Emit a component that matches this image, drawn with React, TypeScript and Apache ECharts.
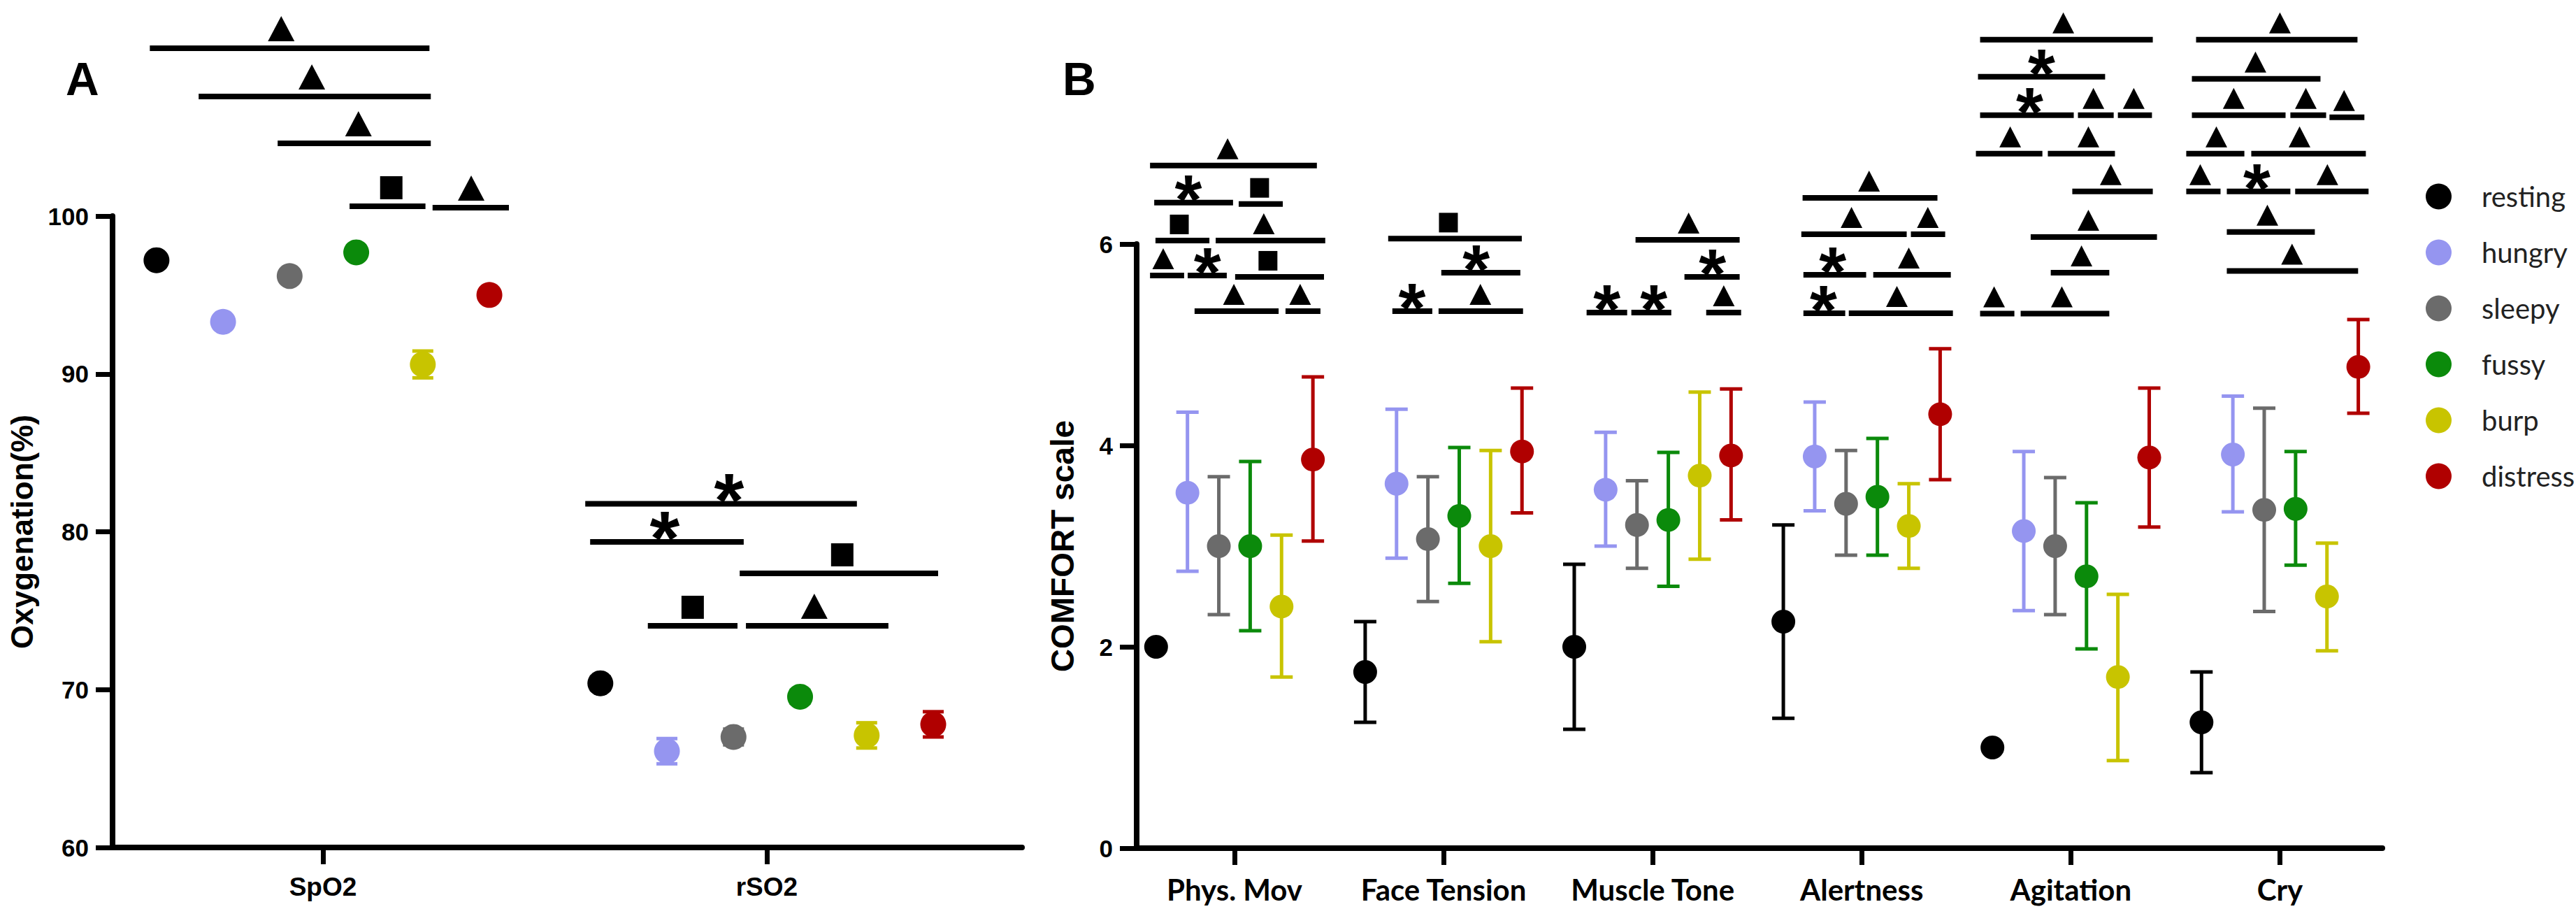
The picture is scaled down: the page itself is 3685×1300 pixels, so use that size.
import React, { useEffect, useRef } from 'react';
import * as echarts from 'echarts';

const states = ['resting', 'hungry', 'sleepy', 'fussy', 'burp', 'distress'];
const stateColors = ['#000000', '#9595f0', '#6b6b6b', '#0b8a0b', '#c8c400', '#b00000'];

const oxyCategories = ['SpO2', 'rSO2'];
const spo2Mean = [97.2, 93.3, 96.2, 97.7, 90.6, 95.0];
const spo2Err = [0.3, 0.3, 0.3, 0.3, 0.85, 0.3];
const rso2Mean = [70.4, 66.1, 67.0, 69.55, 67.1, 67.8];
const rso2Err = [0.4, 0.8, 0.5, 0.4, 0.8, 0.8];

const comfortCategories = ['Phys. Mov', 'Face Tension', 'Muscle Tone', 'Alertness', 'Agitation', 'Cry'];
// [state][category]
const comfortMean = [
  [2.0, 1.75, 2.0, 2.25, 1.0, 1.25],
  [3.53, 3.62, 3.56, 3.89, 3.15, 3.91],
  [3.0, 3.07, 3.21, 3.42, 3.0, 3.36],
  [3.0, 3.3, 3.26, 3.49, 2.7, 3.37],
  [2.4, 3.0, 3.7, 3.2, 1.7, 2.5],
  [3.86, 3.94, 3.9, 4.31, 3.88, 4.78],
];
const comfortLower = [
  [2.0, 1.25, 1.18, 1.29, 1.0, 0.75],
  [2.75, 2.88, 3.0, 3.35, 2.36, 3.34],
  [2.32, 2.45, 2.78, 2.91, 2.32, 2.35],
  [2.16, 2.63, 2.6, 2.91, 1.98, 2.81],
  [1.7, 2.05, 2.87, 2.78, 0.87, 1.96],
  [3.05, 3.33, 3.26, 3.66, 3.19, 4.32],
];
const comfortUpper = [
  [2.0, 2.25, 2.82, 3.21, 1.0, 1.75],
  [4.33, 4.36, 4.13, 4.43, 3.94, 4.49],
  [3.69, 3.69, 3.65, 3.95, 3.68, 4.37],
  [3.84, 3.98, 3.93, 4.07, 3.43, 3.94],
  [3.11, 3.95, 4.53, 3.62, 2.52, 3.03],
  [4.68, 4.57, 4.56, 4.96, 4.57, 5.25],
];

// significance marks: [xFrom, xTo, level, markX, kind]  kind: 0 = triangle, 1 = square, 2 = asterisk
const oxySig = [
  [0.61, 1.24, 110.63, 0.906, 0],
  [0.72, 1.243, 107.57, 0.975, 0],
  [0.898, 1.243, 104.61, 1.08, 0],
  [1.06, 1.231, 100.62, 1.154, 1],
  [1.247, 1.419, 100.53, 1.334, 0],
  [1.591, 2.203, 81.77, 1.915, 2],
  [1.602, 1.948, 79.36, 1.77, 2],
  [1.939, 2.386, 77.36, 2.17, 1],
  [1.732, 1.934, 74.04, 1.833, 1],
  [1.953, 2.274, 74.04, 2.107, 0],
];
const comfortSig = [
  [0.596, 1.394, 6.779, 0.967, 0],
  [0.616, 0.993, 6.411, 0.779, 2],
  [1.02, 1.231, 6.398, 1.12, 1],
  [0.622, 0.88, 6.035, 0.736, 1],
  [0.91, 1.434, 6.035, 1.14, 0],
  [0.596, 0.759, 5.688, 0.659, 0],
  [0.776, 0.963, 5.688, 0.87, 2],
  [1.003, 1.428, 5.674, 1.16, 1],
  [0.809, 1.211, 5.334, 0.997, 0],
  [1.244, 1.411, 5.334, 1.314, 0],
  [1.735, 2.374, 6.053, 2.023, 1],
  [1.989, 2.367, 5.716, 2.156, 2],
  [1.755, 1.946, 5.334, 1.849, 2],
  [1.976, 2.38, 5.334, 2.176, 0],
  [2.918, 3.416, 6.042, 3.172, 0],
  [3.152, 3.416, 5.674, 3.286, 2],
  [2.684, 2.878, 5.32, 2.781, 2],
  [2.898, 3.089, 5.32, 3.005, 2],
  [3.256, 3.423, 5.32, 3.34, 0],
  [3.717, 4.362, 6.459, 4.035, 0],
  [3.711, 4.215, 6.098, 3.951, 0],
  [4.235, 4.399, 6.098, 4.316, 0],
  [3.721, 4.021, 5.695, 3.861, 2],
  [4.055, 4.426, 5.695, 4.225, 0],
  [3.721, 3.921, 5.313, 3.817, 2],
  [3.938, 4.436, 5.313, 4.168, 0],
  [4.566, 5.392, 8.03, 4.964, 0],
  [4.556, 5.164, 7.661, 4.86, 2],
  [4.566, 5.014, 7.279, 4.803, 2],
  [5.034, 5.205, 7.279, 5.108, 0],
  [5.225, 5.388, 7.279, 5.301, 0],
  [4.546, 4.864, 6.897, 4.71, 0],
  [4.89, 5.211, 6.897, 5.084, 0],
  [5.007, 5.392, 6.522, 5.191, 0],
  [4.808, 5.412, 6.07, 5.084, 0],
  [4.904, 5.184, 5.716, 5.051, 0],
  [4.566, 4.73, 5.309, 4.633, 0],
  [4.76, 5.184, 5.309, 4.957, 0],
  [5.599, 6.371, 8.03, 6.0, 0],
  [5.579, 6.194, 7.641, 5.883, 0],
  [5.579, 6.027, 7.279, 5.779, 0],
  [6.05, 6.221, 7.279, 6.124, 0],
  [6.237, 6.404, 7.258, 6.307, 0],
  [5.552, 5.83, 6.897, 5.696, 0],
  [5.863, 6.411, 6.897, 6.094, 0],
  [5.552, 5.716, 6.522, 5.619, 0],
  [5.746, 6.05, 6.522, 5.89, 2],
  [6.073, 6.424, 6.522, 6.227, 0],
  [5.746, 6.167, 6.119, 5.94, 0],
  [5.746, 6.374, 5.733, 6.058, 0],
];

const STEP = 0.15;
const ARIAL = "'Liberation Sans', Arial, sans-serif";

function errRender(capW: number, lw: number) {
  return (params: any, api: any) => {
    const x = api.value(0);
    const lo = api.value(1);
    const hi = api.value(2);
    const si = api.value(3);
    if (hi - lo < 1e-9) return { type: 'group', children: [] };
    const p1 = api.coord([x, lo]);
    const p2 = api.coord([x, hi]);
    const style = { stroke: stateColors[si], lineWidth: lw, fill: 'none' };
    return {
      type: 'group',
      children: [
        { type: 'line', shape: { x1: p1[0], y1: p1[1], x2: p2[0], y2: p2[1] }, style },
        { type: 'line', shape: { x1: p1[0] - capW / 2, y1: p1[1], x2: p1[0] + capW / 2, y2: p1[1] }, style },
        { type: 'line', shape: { x1: p2[0] - capW / 2, y1: p2[1], x2: p2[0] + capW / 2, y2: p2[1] }, style },
      ],
    };
  };
}

function sigRender(cfg: any) {
  return (params: any, api: any) => {
    const x1 = api.value(0);
    const x2 = api.value(1);
    const y = api.value(2);
    const sx = api.value(3);
    const k = api.value(4);
    const a = api.coord([x1, y]);
    const b = api.coord([x2, y]);
    const s = api.coord([sx, y]);
    const by = a[1] - cfg.gap;
    let sym: any;
    if (k === 0) {
      sym = {
        type: 'polygon',
        shape: { points: [[s[0] - cfg.triW / 2, by], [s[0] + cfg.triW / 2, by], [s[0], by - cfg.triH]] },
        style: { fill: '#000' },
      };
    } else if (k === 1) {
      sym = {
        type: 'rect',
        shape: { x: s[0] - cfg.sqW / 2, y: by - cfg.sqH, width: cfg.sqW, height: cfg.sqH },
        style: { fill: '#000' },
      };
    } else {
      sym = {
        type: 'text',
        x: s[0],
        y: by - cfg.starH / 2 + 0.2 * cfg.starSize,
        style: {
          text: '*',
          fontSize: cfg.starSize,
          fontWeight: 'bold',
          fontFamily: ARIAL,
          fill: '#000',
          align: 'center',
          verticalAlign: 'middle',
        },
      };
    }
    return {
      type: 'group',
      children: [
        { type: 'line', shape: { x1: a[0], y1: a[1], x2: b[0], y2: b[1] }, style: { stroke: '#000', lineWidth: cfg.lw } },
        sym,
      ],
    };
  };
}

export default function App() {
  const ref = useRef<HTMLDivElement>(null);
  useEffect(() => {
    if (!ref.current) return;
    const chart = echarts.init(ref.current, undefined, { renderer: 'svg' });

    const oxyErrData: number[][] = [];
    const comfortErrData: number[][] = [];
    states.forEach((_, s) => {
      const off = (s - 2.5) * STEP;
      oxyErrData.push([1 + off, spo2Mean[s] - spo2Err[s], spo2Mean[s] + spo2Err[s], s]);
      oxyErrData.push([2 + off, rso2Mean[s] - rso2Err[s], rso2Mean[s] + rso2Err[s], s]);
      comfortCategories.forEach((_, c) => {
        comfortErrData.push([c + 1 + off, comfortLower[s][c], comfortUpper[s][c], s]);
      });
    });

    const scatterA = states.map((name, s) => ({
      name,
      type: 'scatter',
      xAxisIndex: 0,
      yAxisIndex: 0,
      symbol: 'circle',
      symbolSize: 37,
      z: 5,
      itemStyle: { color: stateColors[s], opacity: 1 },
      data: [
        [1 + (s - 2.5) * STEP, spo2Mean[s]],
        [2 + (s - 2.5) * STEP, rso2Mean[s]],
      ],
    }));
    const scatterB = states.map((name, s) => ({
      name,
      type: 'scatter',
      xAxisIndex: 1,
      yAxisIndex: 1,
      symbol: 'circle',
      symbolSize: 34,
      z: 5,
      itemStyle: { color: stateColors[s], opacity: 1 },
      data: comfortCategories.map((_, c) => [c + 1 + (s - 2.5) * STEP, comfortMean[s][c]]),
    }));

    const axisLine = { show: true, lineStyle: { color: '#000', width: 8 } };
    const axisTick = { show: true, length: 24, lineStyle: { color: '#000', width: 7 } };
    const yLabel = { color: '#000', fontSize: 35, fontWeight: 'bold', fontFamily: ARIAL, margin: 34 };

    const option: any = {
      animation: false,
      backgroundColor: '#ffffff',
      grid: [
        { left: 161, top: 309, width: 1301, height: 903 },
        { left: 1626, top: 349, width: 1782, height: 864 },
      ],
      xAxis: [
        {
          gridIndex: 0,
          type: 'value',
          min: 0.526,
          max: 2.575,
          axisLine,
          axisTick: { ...axisTick, customValues: [1, 2] },
          axisLabel: {
            customValues: [1, 2],
            formatter: (v: number) => oxyCategories[Math.round(v) - 1],
            color: '#000',
            fontSize: 37,
            fontWeight: 'bold',
            fontFamily: ARIAL,
            margin: 38,
          },
          splitLine: { show: false },
        },
        {
          gridIndex: 1,
          type: 'value',
          min: 0.532,
          max: 6.49,
          axisLine,
          axisTick: { ...axisTick, customValues: [1, 2, 3, 4, 5, 6] },
          axisLabel: {
            customValues: [1, 2, 3, 4, 5, 6],
            formatter: (v: number) => comfortCategories[Math.round(v) - 1],
            color: '#000',
            fontSize: 42,
            fontWeight: 'bold',
            fontFamily: 'Lato, sans-serif',
            margin: 38,
          },
          splitLine: { show: false },
        },
      ],
      yAxis: [
        {
          gridIndex: 0,
          type: 'value',
          min: 60,
          max: 100,
          interval: 10,
          axisLine,
          axisTick,
          axisLabel: yLabel,
          splitLine: { show: false },
          name: 'Oxygenation(%)',
          nameLocation: 'middle',
          nameGap: 108,
          nameTextStyle: { color: '#000', fontSize: 44, fontWeight: 'bold', fontFamily: ARIAL },
        },
        {
          gridIndex: 1,
          type: 'value',
          min: 0,
          max: 6,
          interval: 2,
          axisLine,
          axisTick,
          axisLabel: yLabel,
          splitLine: { show: false },
          name: 'COMFORT scale',
          nameLocation: 'middle',
          nameGap: 83,
          nameTextStyle: { color: '#000', fontSize: 46, fontWeight: 'bold', fontFamily: ARIAL },
        },
      ],
      legend: {
        orient: 'vertical',
        left: 3465,
        top: 256,
        itemWidth: 37,
        itemHeight: 37,
        itemGap: 40,
        icon: 'circle',
        selectedMode: false,
        data: states,
        textStyle: { color: '#222', fontSize: 40, fontFamily: 'Lato, sans-serif', padding: [0, 0, 0, 38] },
      },
      graphic: [
        { type: 'text', left: 94, top: 80, style: { text: 'A', fontSize: 66, fontWeight: 'bold', fontFamily: ARIAL, fill: '#000' } },
        { type: 'text', left: 1520, top: 80, style: { text: 'B', fontSize: 66, fontWeight: 'bold', fontFamily: ARIAL, fill: '#000' } },
      ],
      series: [
        {
          type: 'custom',
          xAxisIndex: 0,
          yAxisIndex: 0,
          z: 3,
          clip: false,
          renderItem: errRender(30, 5),
          data: oxyErrData,
        },
        {
          type: 'custom',
          xAxisIndex: 1,
          yAxisIndex: 1,
          z: 3,
          clip: false,
          renderItem: errRender(32, 5),
          data: comfortErrData,
        },
        ...scatterA,
        ...scatterB,
        {
          type: 'custom',
          xAxisIndex: 0,
          yAxisIndex: 0,
          z: 6,
          clip: false,
          renderItem: sigRender({ gap: 10, triW: 38, triH: 36, sqW: 32, sqH: 33, starSize: 110, starH: 36, lw: 8 }),
          data: oxySig,
        },
        {
          type: 'custom',
          xAxisIndex: 1,
          yAxisIndex: 1,
          z: 6,
          clip: false,
          renderItem: sigRender({ gap: 9, triW: 31, triH: 30, sqW: 27, sqH: 28, starSize: 100, starH: 32, lw: 8 }),
          data: comfortSig,
        },
      ],
    };
    chart.setOption(option);
    return () => chart.dispose();
  }, []);
  return (
    <div
      ref={ref}
      style={{ position: 'absolute', left: 0, top: 0, width: 3685, height: 1300, background: '#fff' }}
    />
  );
}
